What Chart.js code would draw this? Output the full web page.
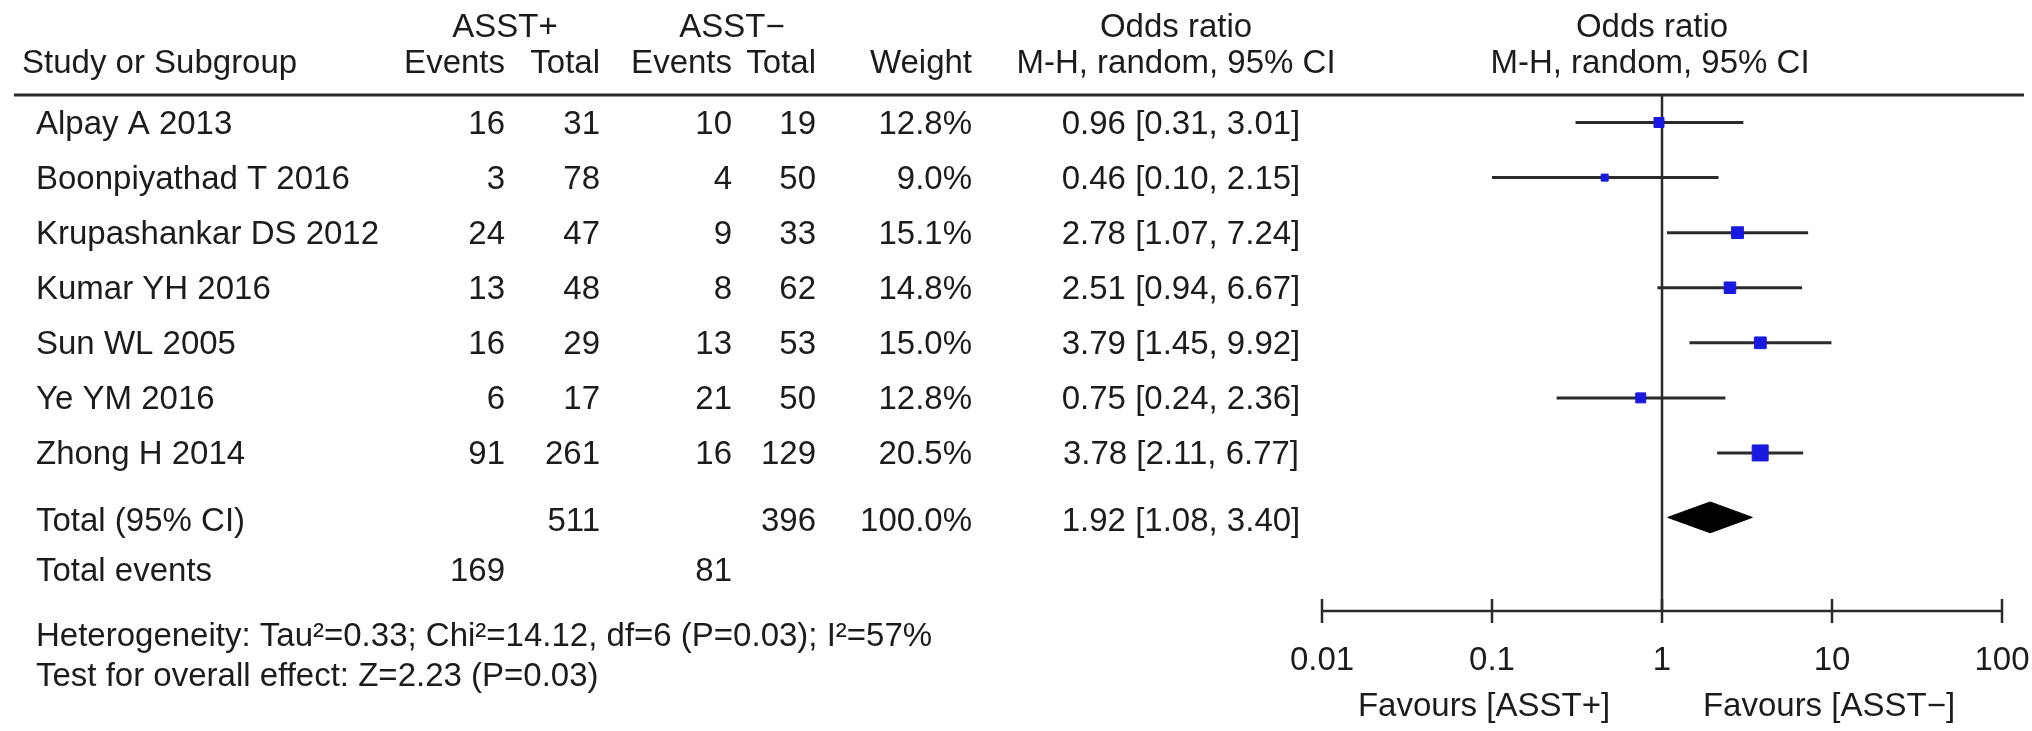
<!DOCTYPE html>
<html>
<head>
<meta charset="utf-8">
<script src="https://cdn.jsdelivr.net/npm/chart.js@4.4.0/dist/chart.umd.min.js"></script>
<style>
  html, body { margin: 0; padding: 0; background: #fff; }
  #wrap { width: 2032px; height: 731px; position: relative; }
</style>
</head>
<body>
<div id="wrap"><canvas id="forest"></canvas></div>
<script>
// study data
const studies = ['Alpay A 2013', 'Boonpiyathad T 2016', 'Krupashankar DS 2012', 'Kumar YH 2016', 'Sun WL 2005', 'Ye YM 2016', 'Zhong H 2014'];
const eventsPos = [16, 3, 24, 13, 16, 6, 91];
const totalPos = [31, 78, 47, 48, 29, 17, 261];
const eventsNeg = [10, 4, 9, 8, 13, 21, 16];
const totalNeg = [19, 50, 33, 62, 53, 50, 129];
const weights = [12.8, 9.0, 15.1, 14.8, 15.0, 12.8, 20.5];
const oddsRatio = [0.96, 0.46, 2.78, 2.51, 3.79, 0.75, 3.78];
const ciLow = [0.31, 0.10, 1.07, 0.94, 1.45, 0.24, 2.11];
const ciHigh = [3.01, 2.15, 7.24, 6.67, 9.92, 2.36, 6.77];

// pooled result
const pooledOR = 1.92;
const pooledLow = 1.08;
const pooledHigh = 3.40;
const pooledTotals = [511, 396];
const pooledEvents = [169, 81];
const pooledWeight = '100.0%';

// axis
const tickValues = [0.01, 0.1, 1, 10, 100];
const tickLabels = ['0.01', '0.1', '1', '10', '100'];
const favourLabels = ['Favours [ASST+]', 'Favours [ASST\u2212]'];

const footer = [
  'Heterogeneity: Tau\u00b2=0.33; Chi\u00b2=14.12, df=6 (P=0.03); I\u00b2=57%',
  'Test for overall effect: Z=2.23 (P=0.03)'
];

// row layout (y scale units)
const yMin = -0.5, yMax = 8.87;
const totalRow = 7.17;
const eventsRow = 8.13;

const FONT = '33px "Liberation Sans", Arial, sans-serif';
const INK = '#1c1c1c';
const fmt = v => v.toFixed(2);

const ciSets = studies.map((s, i) => ({
  type: 'line',
  data: [{ x: ciLow[i], y: i }, { x: ciHigh[i], y: i }],
  borderColor: '#2b2b2b',
  borderWidth: 3,
  pointRadius: 0,
  order: 2
}));

const tableText = {
  id: 'tableText',
  afterDraw(chart) {
    const { ctx, chartArea, scales } = chart;
    const yp = v => scales.y.getPixelForValue(v);
    const xp = v => scales.x.getPixelForValue(v);
    ctx.save();
    ctx.font = FONT;
    ctx.fillStyle = INK;
    ctx.textBaseline = 'middle';

    // header
    const h1 = 28, h2 = 64;
    ctx.textAlign = 'center';
    ctx.fillText('ASST+', 505, h1);
    ctx.fillText('ASST\u2212', 732, h1);
    ctx.fillText('Odds ratio', 1176, h1);
    ctx.fillText('Odds ratio', 1652, h1);
    ctx.fillText('M-H, random, 95% CI', 1176, h2);
    ctx.fillText('M-H, random, 95% CI', 1650, h2);
    ctx.textAlign = 'left';
    ctx.fillText('Study or Subgroup', 22, h2);
    ctx.textAlign = 'right';
    ctx.fillText('Events', 505, h2);
    ctx.fillText('Total', 600, h2);
    ctx.fillText('Events', 732, h2);
    ctx.fillText('Total', 816, h2);
    ctx.fillText('Weight', 972, h2);

    // header rule
    ctx.strokeStyle = '#2a2a2a';
    ctx.lineWidth = 3;
    ctx.beginPath();
    ctx.moveTo(14, chartArea.top);
    ctx.lineTo(2024, chartArea.top);
    ctx.stroke();

    // study rows
    studies.forEach((s, i) => {
      const y = yp(i) + 2;
      ctx.textAlign = 'left';
      ctx.fillText(s, 36, y);
      ctx.textAlign = 'right';
      ctx.fillText(String(eventsPos[i]), 505, y);
      ctx.fillText(String(totalPos[i]), 600, y);
      ctx.fillText(String(eventsNeg[i]), 732, y);
      ctx.fillText(String(totalNeg[i]), 816, y);
      ctx.fillText(weights[i].toFixed(1) + '%', 972, y);
      ctx.textAlign = 'center';
      ctx.fillText(`${fmt(oddsRatio[i])} [${fmt(ciLow[i])}, ${fmt(ciHigh[i])}]`, 1181, y);
    });

    // totals
    let y = yp(totalRow) + 5;
    ctx.textAlign = 'left';
    ctx.fillText('Total (95% CI)', 36, y);
    ctx.textAlign = 'right';
    ctx.fillText(String(pooledTotals[0]), 600, y);
    ctx.fillText(String(pooledTotals[1]), 816, y);
    ctx.fillText(pooledWeight, 972, y);
    ctx.textAlign = 'center';
    ctx.fillText(`${fmt(pooledOR)} [${fmt(pooledLow)}, ${fmt(pooledHigh)}]`, 1181, y);

    y = yp(eventsRow) + 2;
    ctx.textAlign = 'left';
    ctx.fillText('Total events', 36, y);
    ctx.textAlign = 'right';
    ctx.fillText(String(pooledEvents[0]), 505, y);
    ctx.fillText(String(pooledEvents[1]), 732, y);

    // footer
    ctx.textAlign = 'left';
    ctx.fillText(footer[0], 36, 637);
    ctx.fillText(footer[1], 36, 677);

    // x axis with ticks
    const ay = chartArea.bottom;
    ctx.strokeStyle = '#2a2a2a';
    ctx.lineWidth = 2.5;
    ctx.beginPath();
    ctx.moveTo(xp(tickValues[0]), ay);
    ctx.lineTo(xp(tickValues[tickValues.length - 1]), ay);
    tickValues.forEach(v => {
      ctx.moveTo(xp(v), ay - 12);
      ctx.lineTo(xp(v), ay + 12);
    });
    ctx.stroke();
    ctx.textAlign = 'center';
    tickValues.forEach((v, i) => ctx.fillText(tickLabels[i], xp(v), ay + 50));
    ctx.fillText(favourLabels[0], 1484, 707);
    ctx.fillText(favourLabels[1], 1829, 707);
    ctx.restore();
  }
};

new Chart(document.getElementById('forest'), {
  type: 'scatter',
  data: {
    datasets: [
      {
        type: 'line',
        data: [{ x: 1, y: yMin }, { x: 1, y: yMax }],
        borderColor: '#2b2b2b',
        borderWidth: 2.5,
        pointRadius: 0,
        order: 3
      },
      ...ciSets,
      {
        data: oddsRatio.map((v, i) => ({ x: v, y: i })),
        pointStyle: 'rect',
        pointRadius: weights.map(w => w * 0.78 / Math.SQRT2),
        backgroundColor: 'rgb(25,25,225)',
        borderColor: 'rgb(25,25,225)',
        borderWidth: 1,
        order: 1
      },
      {
        type: 'line',
        data: [
          { x: pooledLow, y: totalRow },
          { x: pooledOR, y: totalRow - 0.28 },
          { x: pooledHigh, y: totalRow },
          { x: pooledOR, y: totalRow + 0.28 },
          { x: pooledLow, y: totalRow }
        ],
        borderColor: '#000',
        backgroundColor: '#000',
        borderWidth: 1,
        fill: 'shape',
        pointRadius: 0,
        tension: 0,
        order: 1
      }
    ]
  },
  options: {
    responsive: true,
    maintainAspectRatio: false,
    animation: false,
    layout: { padding: { left: 1322, right: 30, top: 95, bottom: 120 } },
    plugins: { legend: { display: false }, tooltip: { enabled: false } },
    scales: {
      x: { type: 'logarithmic', min: 0.01, max: 100, display: false },
      y: { type: 'linear', min: yMin, max: yMax, reverse: true, display: false }
    }
  },
  plugins: [tableText]
});
</script>
</body>
</html>
